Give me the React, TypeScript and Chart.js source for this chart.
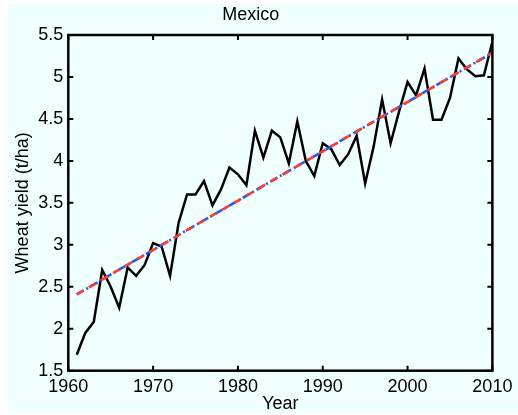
import React, { useEffect, useRef } from "react";
import { Chart, registerables } from "chart.js";

Chart.register(...registerables);

const years = [
  1961, 1962, 1963, 1964, 1965, 1966, 1967, 1968, 1969, 1970,
  1971, 1972, 1973, 1974, 1975, 1976, 1977, 1978, 1979, 1980,
  1981, 1982, 1983, 1984, 1985, 1986, 1987, 1988, 1989, 1990,
  1991, 1992, 1993, 1994, 1995, 1996, 1997, 1998, 1999, 2000,
  2001, 2002, 2003, 2004, 2005, 2006, 2007, 2008, 2009, 2010,
];

const wheatYield = [
  1.69, 1.95, 2.08, 2.7, 2.5, 2.25, 2.73, 2.63, 2.76, 3.02,
  2.98, 2.63, 3.26, 3.6, 3.6, 3.76, 3.47, 3.66, 3.92, 3.84,
  3.71, 4.36, 4.04, 4.36, 4.28, 3.97, 4.47, 4.0, 3.82, 4.21,
  4.14, 3.95, 4.08, 4.3, 3.73, 4.17, 4.73, 4.21, 4.59, 4.94,
  4.78, 5.1, 4.49, 4.49, 4.75, 5.22, 5.09, 5.01, 5.02, 5.42,
];

const trendYears = [1961, 2010];
const trendBlue = [2.41, 5.29];
const trendRed = [2.41, 5.29];

const xTickValues = [1960, 1970, 1980, 1990, 2000, 2010];
const yTickValues = [1.5, 2, 2.5, 3, 3.5, 4, 4.5, 5, 5.5];

const FONT_FAMILY = '"Liberation Sans", Arial, Helvetica, sans-serif';
const FONT_SIZE = 18;

const boxPlugin = {
  id: "matlabBox",
  afterDatasetsDraw(chart: any) {
    const { ctx, chartArea, scales } = chart;
    const { left, right, top, bottom } = chartArea;
    ctx.save();
    ctx.strokeStyle = "#000";
    ctx.lineWidth = 2.5;
    ctx.strokeRect(left, top, right - left, bottom - top);
    const tl = 5;
    ctx.lineWidth = 2;
    ctx.beginPath();
    xTickValues.forEach((v) => {
      const px = scales.x.getPixelForValue(v);
      ctx.moveTo(px, bottom);
      ctx.lineTo(px, bottom - tl);
      ctx.moveTo(px, top);
      ctx.lineTo(px, top + tl);
    });
    yTickValues.forEach((v) => {
      const py = scales.y.getPixelForValue(v);
      ctx.moveTo(left, py);
      ctx.lineTo(left + tl, py);
      ctx.moveTo(right, py);
      ctx.lineTo(right - tl, py);
    });
    ctx.stroke();
    ctx.restore();
  },
};

export default function App() {
  const canvasRef = useRef<HTMLCanvasElement | null>(null);

  useEffect(() => {
    if (!canvasRef.current) return;
    const font = { family: FONT_FAMILY, size: FONT_SIZE, weight: "normal" as const };
    const chart = new Chart(canvasRef.current, {
      type: "line",
      data: {
        datasets: [
          {
            label: "Yield",
            data: years.map((yr, i) => ({ x: yr, y: wheatYield[i] })),
            borderColor: "#000",
            borderWidth: 2.5,
            pointRadius: 0,
            tension: 0,
            fill: false,
            order: 2,
          },
          {
            label: "Trend (blue)",
            data: trendYears.map((yr, i) => ({ x: yr, y: trendBlue[i] })),
            borderColor: "#1f5cff",
            borderWidth: 2.6,
            borderDash: [8, 3, 2, 3],
            pointRadius: 0,
            fill: false,
            order: 1,
          },
          {
            label: "Trend (red)",
            data: trendYears.map((yr, i) => ({ x: yr, y: trendRed[i] })),
            borderColor: "#ff3b30",
            borderWidth: 2.6,
            borderDash: [8, 6],
            pointRadius: 0,
            fill: false,
            order: 0,
          },
        ],
      },
      options: {
        animation: false,
        responsive: false,
        devicePixelRatio: 1,
        layout: { padding: { left: 0, right: 24.7, top: 0, bottom: 0 } },
        plugins: {
          legend: { display: false },
          tooltip: { enabled: false },
          title: {
            display: true,
            text: "Mexico",
            color: "#000",
            font,
            padding: { top: 0, bottom: 9.4 },
          },
        },
        scales: {
          x: {
            type: "linear",
            min: 1960,
            max: 2010,
            grid: { display: false, drawTicks: false, tickLength: 0 },
            border: { display: false },
            ticks: {
              stepSize: 10,
              padding: 5.6,
              color: "#000",
              font,
              maxRotation: 0,
              autoSkip: false,
              callback: (v: any) => String(v),
            },
            title: {
              display: true,
              text: "Year",
              color: "#000",
              font,
              padding: { top: 0, bottom: 0.5 },
            },
            afterFit: (s: any) => {
              s.height = 44.3;
            },
          },
          y: {
            type: "linear",
            min: 1.5,
            max: 5.5,
            grid: { display: false, drawTicks: false, tickLength: 0 },
            border: { display: false },
            ticks: {
              stepSize: 0.5,
              padding: 5,
              color: "#000",
              font,
              callback: (v: any) => String(v),
            },
            title: {
              display: true,
              text: "Wheat yield (t/ha)",
              color: "#000",
              font,
              padding: { top: 4.2, bottom: 0 },
            },
            afterFit: (s: any) => {
              s.width = 60.3;
            },
          },
        },
      },
      plugins: [boxPlugin],
    });
    return () => chart.destroy();
  }, []);

  return (
    <div
      style={{
        position: "absolute",
        left: 8,
        top: 4,
        width: 510,
        height: 409,
        background: "#F0FFFF",
      }}
    >
      <canvas ref={canvasRef} width={510} height={411} style={{ display: "block" }} />
    </div>
  );
}
